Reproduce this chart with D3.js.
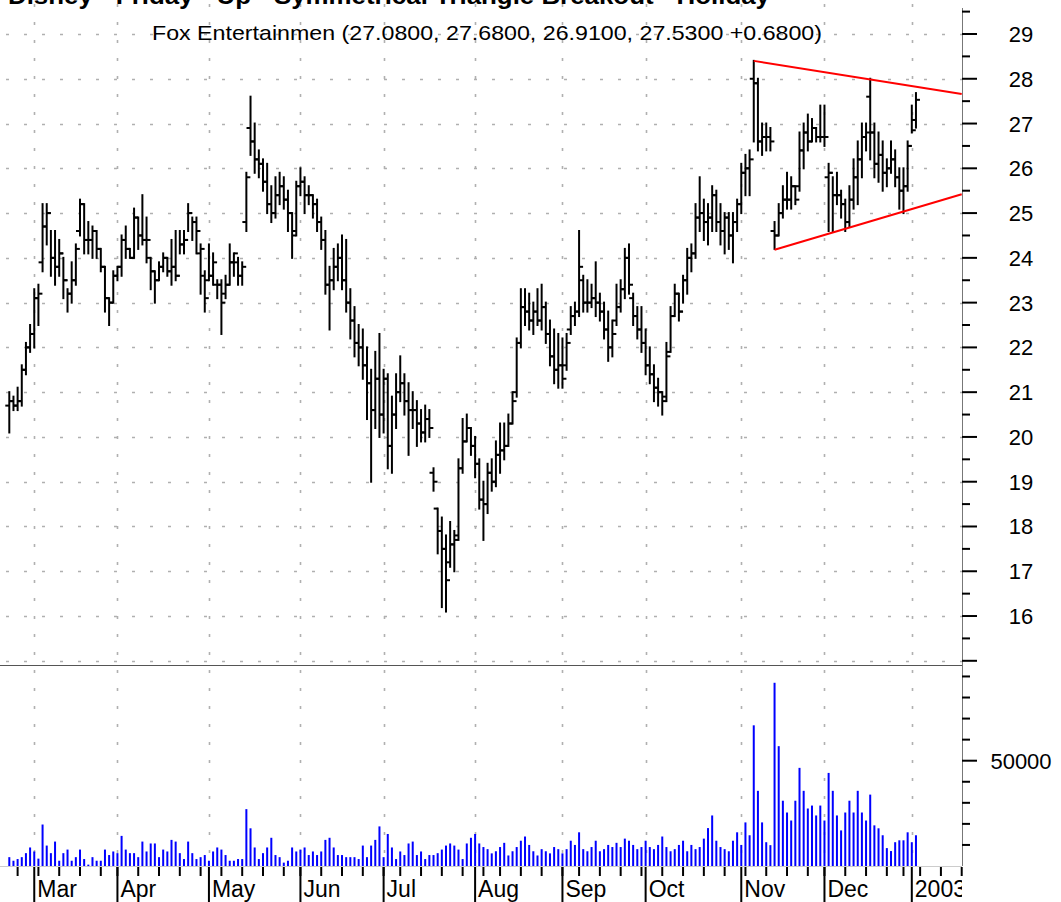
<!DOCTYPE html>
<html><head><meta charset="utf-8">
<script src="https://cdn.jsdelivr.net/npm/d3@7"></script>
<style>body{margin:0;background:#fff}svg{display:block;font-family:"Liberation Sans",Arial,sans-serif}</style>
</head><body><svg id="c" width="1061" height="902"></svg>
<script>
const highs=[21.0,20.9,21.1,21.6,22.1,22.5,23.3,23.4,25.2,25.2,
24.6,24.6,24.4,24.0,23.3,23.9,24.3,25.3,25.2,24.8,
24.7,24.6,24.2,23.8,23.1,23.7,23.8,24.5,24.7,24.2,
25.1,24.9,25.4,24.9,24.0,23.7,23.9,24.1,24.0,24.4,
24.6,24.6,24.6,25.2,24.9,24.9,24.3,23.7,24.3,24.1,
23.5,23.5,23.6,24.3,24.1,24.0,23.9,25.9,27.6,27.0,
26.4,26.2,26.1,25.6,25.8,25.9,25.8,25.5,25.0,25.7,
26.0,25.8,25.6,25.4,25.3,24.9,24.6,23.8,24.2,24.3,
24.5,24.4,23.3,22.9,22.5,22.4,22.0,21.5,21.9,22.3,
21.5,21.4,20.9,21.4,21.8,21.4,21.2,21.0,20.8,20.6,
20.7,20.6,19.3,18.4,18.2,17.8,18.1,17.9,19.5,20.4,
20.5,20.2,20.0,19.5,19.0,19.4,19.5,19.9,20.3,20.3,
20.5,21.0,22.2,23.3,23.3,23.2,23.0,23.3,23.4,23.0,
22.6,22.4,22.3,22.2,22.3,22.9,23.0,24.6,23.6,23.5,
23.4,23.9,23.2,23.0,22.8,22.6,23.4,23.5,24.2,24.3,
23.2,22.9,22.9,22.4,22.0,21.6,21.3,21.0,22.1,22.9,
23.4,23.2,23.6,24.2,24.3,25.2,25.8,25.3,25.2,25.6,
25.5,25.2,25.0,25.0,25.0,25.3,26.1,26.3,26.4,28.4,
28.0,27.0,27.0,26.9,24.8,25.2,25.6,25.9,25.8,25.6,
26.8,27.0,27.2,27.1,26.9,27.4,27.4,26.1,25.8,25.9,
25.5,25.3,25.6,26.2,26.6,27.0,27.0,28.0,27.0,26.8,
26.6,26.2,26.6,26.4,26.0,26.0,26.6,27.4,27.68];
const lows=[20.1,20.6,20.6,20.7,21.4,21.9,22.0,22.5,23.7,24.3,
23.6,23.4,23.6,23.1,22.8,23.0,23.4,24.5,24.1,24.1,
24.0,24.0,23.7,22.8,22.5,23.0,23.5,23.6,24.0,24.0,
24.0,24.2,24.3,23.9,23.3,23.0,23.5,23.7,23.6,23.4,
23.5,24.1,24.1,24.6,24.4,24.1,23.2,22.8,23.5,23.4,
23.1,22.3,23.1,23.4,23.6,23.4,23.4,24.6,26.3,25.9,
25.8,25.5,25.0,24.8,24.9,25.2,25.1,24.6,24.0,24.5,
25.4,25.0,25.2,24.9,24.6,24.2,23.2,22.4,23.3,23.5,
23.3,22.8,22.2,21.8,21.6,21.3,20.4,19.0,20.2,20.0,
20.1,19.3,19.2,20.2,20.8,20.5,19.6,20.2,19.8,19.9,
19.9,20.0,18.8,17.4,16.2,16.1,17.1,17.0,17.7,19.2,
19.9,19.6,19.1,18.4,17.7,18.3,18.8,18.9,19.2,19.5,
19.8,20.3,20.9,22.0,22.5,22.4,22.3,22.5,22.4,22.1,
21.6,21.2,21.1,21.1,21.5,22.3,22.5,22.7,22.8,22.8,
22.9,22.7,22.6,22.2,21.7,21.8,22.5,22.8,23.1,23.2,
22.5,22.2,21.9,21.4,21.2,20.8,20.7,20.5,20.8,21.9,
22.7,22.6,23.0,23.2,23.7,24.0,24.6,24.4,24.3,24.6,
24.6,24.3,24.1,24.2,23.9,24.6,25.0,25.4,25.4,26.6,
26.4,26.3,26.4,26.4,24.2,24.5,24.9,25.1,25.1,25.2,
25.5,26.0,26.4,26.6,26.6,26.6,26.5,24.6,24.6,25.2,
24.9,24.6,24.7,25.1,25.2,25.8,26.4,26.2,25.8,25.7,
25.5,25.6,25.9,25.6,25.1,25.0,25.5,26.8,26.91];
const closes=[20.8,20.7,20.8,21.5,22.0,22.3,23.1,23.2,24.7,25.0,
24.0,23.8,24.1,23.5,23.2,23.5,24.2,25.2,24.4,24.4,
24.6,24.2,23.8,23.1,23.0,23.6,23.8,24.4,24.2,24.0,
24.9,24.5,24.4,24.4,23.7,23.5,23.8,24.0,23.7,23.8,
23.6,24.3,24.4,25.0,24.8,24.6,24.2,23.1,23.6,23.9,
23.4,23.0,23.4,23.9,24.1,23.6,23.8,25.8,26.6,26.2,
26.1,25.7,25.2,25.0,25.4,25.6,25.3,25.0,24.5,25.6,
25.7,25.4,25.4,25.2,24.8,24.4,23.4,23.5,23.8,24.0,
23.5,23.0,22.6,22.1,22.0,21.6,21.2,20.6,21.3,20.5,
21.3,19.8,20.5,21.0,21.2,20.8,20.6,20.6,20.3,20.1,
20.4,20.2,19.0,17.9,17.5,16.8,17.6,17.7,19.3,19.9,
20.2,19.8,19.4,18.6,18.5,19.2,19.0,19.6,19.7,19.8,
20.3,20.8,22.1,22.9,22.8,22.6,22.8,22.6,22.9,22.3,
21.8,21.5,21.6,21.3,22.1,22.7,22.8,23.8,23.0,23.0,
23.1,23.0,22.8,22.4,22.0,22.3,22.9,23.3,24.0,23.4,
22.7,22.4,22.1,21.6,21.4,21.1,21.0,20.8,21.8,22.7,
23.2,22.8,23.5,24.0,24.1,24.9,25.0,24.8,24.9,25.4,
24.8,24.6,24.9,24.5,24.8,25.2,25.9,26.0,26.2,27.9,
26.6,26.7,26.7,26.6,24.5,25.0,25.3,25.3,25.6,25.3,
26.4,26.8,26.6,26.9,26.7,26.7,26.7,25.9,25.4,25.4,
25.2,24.8,25.3,25.8,26.2,26.7,26.8,26.8,26.1,26.3,
25.9,26.0,26.2,25.8,25.5,25.6,26.5,26.85,27.53];
const opens=[20.7,20.8,20.7,20.8,21.5,22.0,22.3,23.1,23.9,24.7,
25.0,24.0,23.8,24.1,23.5,23.2,23.5,24.6,25.2,24.4,
24.4,24.6,24.2,23.8,23.1,23.0,23.6,23.8,24.4,24.2,
24.0,24.9,24.5,24.4,24.0,23.7,23.5,23.8,24.0,23.7,
23.8,23.6,24.3,24.4,25.0,24.8,24.1,23.6,23.5,23.6,
23.4,23.4,23.2,23.4,23.9,23.9,23.6,24.8,26.9,26.6,
26.2,26.1,25.7,25.2,25.0,25.4,25.6,25.3,25.0,24.6,
25.6,25.7,25.4,25.4,25.2,24.8,24.4,23.4,23.5,23.8,
24.0,23.5,23.0,22.6,22.1,22.0,21.6,21.2,20.6,21.3,
20.5,21.3,19.8,20.5,21.0,21.2,20.8,20.6,20.6,20.3,
20.1,20.4,19.2,18.4,17.9,17.5,17.2,17.6,17.8,19.3,
19.9,20.2,19.8,19.4,18.6,18.5,19.2,19.0,19.6,19.7,
19.8,20.3,21.0,22.1,22.9,22.8,22.6,22.8,22.6,22.9,
22.3,21.8,21.5,21.6,21.6,22.4,22.7,22.8,23.5,23.0,
23.0,23.1,23.0,22.8,22.4,22.0,22.6,22.9,23.3,24.0,
23.1,22.7,22.4,22.1,21.6,21.4,21.1,21.0,20.9,21.9,
22.7,23.2,22.8,23.5,24.0,24.1,24.9,25.0,24.8,24.9,
25.4,24.8,24.6,24.9,24.5,24.8,25.2,25.9,26.0,28.0,
27.9,26.6,26.7,26.7,24.6,24.5,25.0,25.3,25.3,25.6,
25.6,26.4,26.8,26.6,26.9,26.7,26.7,25.8,25.9,25.4,
25.4,25.2,24.8,25.3,25.8,26.2,26.7,27.6,26.8,26.1,
26.3,25.9,26.0,26.2,25.8,25.5,25.6,26.5,27.08];
const volumes=[4200,2500,3300,4200,6100,8800,6900,3500,19700,9700,
6100,11600,2500,6100,7800,2500,4200,7800,3300,650,
4200,2500,2500,7800,5200,6900,6100,14300,7800,6100,
6100,4200,11600,6900,10700,10700,4200,7800,6900,12400,
11600,6100,3300,11600,6100,3300,4200,5200,2500,6900,
8800,7800,5200,2500,2500,3300,3300,27000,17900,8800,
3300,6100,8800,13400,5200,4200,1600,2500,8800,6900,
7800,8800,5200,6900,5200,6900,12400,13400,8800,5200,
5200,4200,4200,4200,3300,9700,4200,9700,12400,18800,
4200,15200,8800,3300,6900,5200,10700,11600,5200,6900,
3300,5200,5200,6100,7800,9700,10700,9700,7800,3300,
10700,13400,15200,10700,9000,8000,6000,7000,9000,11000,
5000,7000,9000,12000,14000,10000,7000,5000,8000,7000,
6000,9000,8000,6000,8000,12000,10000,16000,8000,7000,
9000,12000,7000,8000,10000,9000,11000,9000,13000,12000,
10000,8000,9000,12000,9000,8000,10000,14000,9000,7000,
8000,10000,12000,7000,10000,8000,9000,13000,18000,24000,
12000,9000,8000,7000,12000,16000,10000,20700,14600,66800,
35700,20700,11300,9900,87000,56900,31000,25400,21600,31000,
46600,35700,27300,28700,24000,28700,21600,44200,35700,24000,
16900,25400,31000,25400,35700,25400,21600,33900,19300,17900,
14600,8500,7100,11300,12200,12200,16000,11300,14600];
// category axis: month labels at the bar index of the first trading day of each month
const monthLabels=["Mar","Apr","May","Jun","Jul","Aug","Sep","Oct","Nov","Dec","2003"];
const monthStart=[6,26,48,70,90,112,133,153,176,196,217];
// first trading day of each week
const weekStart=[2,7,12,17,22,26,31,36,41,46,51,56,61,66,70,75,80,85,90,94,99,104,109,114,118,123,128,133,137,142,147,152,157,162,167,172,177,182,187,192,196,201,206,211,215,219,224,229];
const priceLabels=[16,17,18,19,20,21,22,23,24,25,26,27,28,29];
const volLabels=[50000];
// trendlines (bar index, price)
const upperLine=[[179,28.40],[229,27.66]];
const lowerLine=[[184,24.18],[229,25.42]];
const titleText="Fox Entertainmen (27.0800, 27.6800, 26.9100, 27.5300 +0.6800)";
const headingText="Disney - Friday - Up - Symmetrical Triangle Breakout - Holiday";

const svg=d3.select("#c");
const W=962;
const x=d3.scaleLinear().domain([-2.236,229.07]).range([0,W]);
const y=d3.scaleLinear().domain([15,29]).range([660.8,34]);
const yv=d3.scaleLinear().domain([0,50000]).range([866,760.7]);
const gridColor="#b0b0b0";

svg.append("defs").append("clipPath").attr("id","plotclip").append("rect").attr("x",0).attr("y",0).attr("width",W).attr("height",902);

const grid=svg.append("g").attr("stroke",gridColor).attr("stroke-width",1.6).attr("stroke-dasharray","3,15");
d3.range(15,30).forEach(p=>{
  grid.append("line").attr("x1",6).attr("x2",W).attr("y1",Math.round(y(p))+0.5).attr("y2",Math.round(y(p))+0.5);
});
monthStart.forEach(i=>{
  grid.append("line").attr("x1",Math.round(x(i))+0.5).attr("x2",Math.round(x(i))+0.5).attr("y1",4).attr("y2",866);
});

// top heading (clipped by the top edge, as in the source picture)
svg.append("text").attr("x",8).attr("y",4).attr("font-weight","bold").attr("font-size",24)
  .attr("textLength",762).attr("lengthAdjust","spacingAndGlyphs").text(headingText);

svg.append("text").attr("x",152).attr("y",40).attr("font-size",21).attr("fill","#000")
  .attr("textLength",670).attr("lengthAdjust","spacingAndGlyphs").text(titleText);

// separator and frame
svg.append("line").attr("x1",0).attr("x2",W).attr("y1",665.5).attr("y2",665.5).attr("stroke","#555").attr("stroke-width",1);
svg.append("line").attr("x1",0).attr("x2",W).attr("y1",866.5).attr("y2",866.5).attr("stroke","#ccc").attr("stroke-width",1);
svg.append("line").attr("x1",W+0.5).attr("x2",W+0.5).attr("y1",8).attr("y2",866).attr("stroke","#777").attr("stroke-width",1);

// volume bars
const idx=d3.range(highs.length);
svg.append("g").selectAll("rect").data(idx).join("rect")
  .attr("x",i=>x(i)-1).attr("width",2)
  .attr("y",i=>yv(volumes[i])).attr("height",i=>yv(0)-yv(volumes[i]))
  .attr("fill","#0000ff");

// price bars
const pb=svg.append("g").attr("stroke","#000").attr("stroke-width",2);
idx.forEach(i=>{
  const cx=x(i);
  pb.append("line").attr("x1",cx).attr("x2",cx).attr("y1",y(highs[i])-1).attr("y2",y(lows[i])+1);
  pb.append("line").attr("x1",cx-4).attr("x2",cx).attr("y1",y(opens[i])).attr("y2",y(opens[i]));
  pb.append("line").attr("x1",cx).attr("x2",cx+4).attr("y1",y(closes[i])).attr("y2",y(closes[i]));
});

// trendlines
[upperLine,lowerLine].forEach(l=>{
  svg.append("line").attr("x1",x(l[0][0])).attr("y1",y(l[0][1])).attr("x2",x(l[1][0])).attr("y2",y(l[1][1]))
    .attr("stroke","#ff0000").attr("stroke-width",2);
});

// right axis
const ax=svg.append("g").attr("stroke","#000").attr("stroke-width",2);
d3.range(15,29.6,0.5).forEach(p=>{
  const major=Number.isInteger(p);
  ax.append("line").attr("x1",W).attr("x2",W+(major?15:8)).attr("y1",y(p)).attr("y2",y(p));
});
d3.range(10000,95000,10000).forEach(v=>{
  ax.append("line").attr("x1",W).attr("x2",W+(v===50000?15:8)).attr("y1",yv(v)).attr("y2",yv(v));
});
svg.append("g").selectAll("text").data(priceLabels).join("text")
  .attr("x",1021).attr("y",p=>y(p)+8).attr("text-anchor","middle").attr("font-size",22).text(d=>d);
svg.append("g").selectAll("text").data(volLabels).join("text")
  .attr("x",1021).attr("y",v=>yv(v)+8).attr("text-anchor","middle").attr("font-size",22).text(d=>d);

// bottom axis
const bx=svg.append("g").attr("stroke","#000").attr("stroke-width",2);
weekStart.forEach(i=>{
  if(x(i)<=W+1) bx.append("line").attr("x1",x(i)).attr("x2",x(i)).attr("y1",867).attr("y2",876);
});
monthStart.forEach(i=>{
  bx.append("line").attr("x1",x(i)).attr("x2",x(i)).attr("y1",867).attr("y2",902);
});
svg.append("g").attr("clip-path","url(#plotclip)").selectAll("text").data(monthLabels).join("text")
  .attr("x",(d,k)=>x(monthStart[k])+3).attr("y",897).attr("font-size",23).text(d=>d);
</script></body></html>
